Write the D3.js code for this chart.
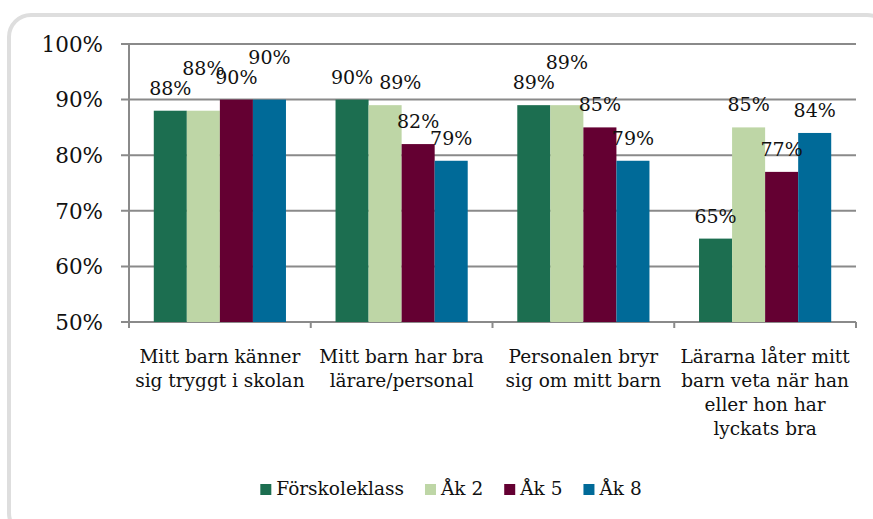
<!DOCTYPE html>
<html>
<head>
<meta charset="utf-8">
<script src="https://cdn.jsdelivr.net/npm/d3@7"></script>
<style>
  body { margin: 0; background: #fff; }
  svg { display: block; font-family: "DejaVu Serif", Georgia, serif; }
</style>
</head>
<body>
<div id="chart"></div>
<script>
// chart data
const categories = [
  "Mitt barn känner sig tryggt i skolan",
  "Mitt barn har bra lärare/personal",
  "Personalen bryr sig om mitt barn",
  "Lärarna låter mitt barn veta när han eller hon har lyckats bra"
];
const series = ["Förskoleklass", "Åk 2", "Åk 5", "Åk 8"];
const forskoleklass = [88, 90, 89, 65];
const ak2 = [88, 89, 89, 85];
const ak5 = [90, 82, 85, 77];
const ak8 = [90, 79, 79, 84];
const yTicks = [50, 60, 70, 80, 90, 100];
const colors = ["#1c6e50", "#bed6a6", "#640032", "#006a98"];

const values = [forskoleklass, ak2, ak5, ak8];

const W = 873, H = 519;
const svg = d3.select("#chart").append("svg")
  .attr("width", W).attr("height", H);

// outer rounded frame
svg.append("rect")
  .attr("x", 9).attr("y", 15)
  .attr("width", 880).attr("height", 520)
  .attr("rx", 22)
  .attr("fill", "#fff")
  .attr("stroke", "#dedede")
  .attr("stroke-width", 4);

const plot = {left: 129, right: 856, top: 44, bottom: 322};

let x = d3.scaleBand().domain(categories).range([plot.left, plot.right]);
let xs = d3.scaleBand().domain(series).range([0, x.bandwidth()])
  .paddingInner(0).paddingOuter(0.75);
let y = d3.scaleLinear().domain([50, 100]).range([plot.bottom, plot.top]);

// gridlines + y tick labels
let grid = svg.append("g");
grid.selectAll("line").data(yTicks).join("line")
  .attr("x1", plot.left - 8).attr("x2", plot.right)
  .attr("y1", d => y(d)).attr("y2", d => y(d))
  .attr("stroke", "#8a8a8a").attr("stroke-width", 2);
grid.selectAll("text").data(yTicks).join("text")
  .attr("x", 103).attr("y", d => y(d))
  .attr("dy", "0.36em")
  .attr("text-anchor", "end")
  .attr("font-size", 21.5)
  .attr("fill", "#111")
  .text(d => d + "%");

// y axis line
svg.append("line")
  .attr("x1", plot.left).attr("x2", plot.left)
  .attr("y1", plot.top).attr("y2", plot.bottom + 6)
  .attr("stroke", "#8a8a8a").attr("stroke-width", 2);

// x axis ticks at category boundaries
let bounds = categories.map(c => x(c)).concat([plot.right]);
svg.append("g").selectAll("line").data(bounds).join("line")
  .attr("x1", d => d).attr("x2", d => d)
  .attr("y1", plot.bottom).attr("y2", plot.bottom + 6)
  .attr("stroke", "#8a8a8a").attr("stroke-width", 2);

// bars
let groups = svg.append("g").selectAll("g").data(categories).join("g")
  .attr("transform", c => `translate(${x(c)},0)`);

groups.selectAll("rect")
  .data((c, ci) => series.map((s, si) => ({s, si, v: values[si][ci]})))
  .join("rect")
  .attr("x", d => xs(d.s))
  .attr("width", xs.bandwidth())
  .attr("y", d => y(d.v))
  .attr("height", d => y(50) - y(d.v))
  .attr("fill", d => colors[d.si]);

// data labels: a label sitting right on the previous one is lifted,
// one that still clashes a lot is pushed to the right
const glyphH = 14;
groups.each(function(c, ci) {
  let g = d3.select(this);
  let prev = null;
  series.forEach((s, si) => {
    let v = values[si][ci];
    let lx = xs(s) + xs.bandwidth() / 2;
    let ly = y(v) - 16;
    let t = g.append("text")
      .attr("text-anchor", "middle")
      .attr("font-size", 19)
      .attr("fill", "#111")
      .text(v + "%");
    let w = t.node().getComputedTextLength();
    if (prev) {
      if (Math.abs(ly - prev.y) < 3) {
        ly -= 20;
      } else {
        let yo = glyphH - Math.abs(ly - prev.y);
        let xo = (prev.x + prev.w / 2) - (lx - w / 2);
        if (yo > 7 && xo > 0) lx += xo + 6;
      }
    }
    t.attr("x", lx).attr("y", ly);
    prev = {x: lx, y: ly, w};
  });
});

// category labels, wrapped to band width
function wrap(text, width) {
  text.each(function() {
    let el = d3.select(this);
    let words = el.text().split(/\s+/);
    el.text(null);
    let line = [];
    let tspan = el.append("tspan").attr("x", el.attr("x")).attr("dy", 0);
    words.forEach(w => {
      line.push(w);
      tspan.text(line.join(" "));
      if (tspan.node().getComputedTextLength() > width && line.length > 1) {
        line.pop();
        tspan.text(line.join(" "));
        line = [w];
        tspan = el.append("tspan").attr("x", el.attr("x")).attr("dy", 24).text(w);
      }
    });
  });
}

svg.append("g").selectAll("text").data(categories).join("text")
  .attr("x", c => x(c) + x.bandwidth() / 2)
  .attr("y", 363)
  .attr("text-anchor", "middle")
  .attr("font-size", 18.5)
  .attr("fill", "#111")
  .text(c => c)
  .call(wrap, 178);

// legend
let legend = svg.append("g");
let lx = 0;
series.forEach((s, i) => {
  let item = legend.append("g").attr("transform", `translate(${lx},0)`);
  item.append("rect")
    .attr("x", 0).attr("y", -11)
    .attr("width", 11).attr("height", 11)
    .attr("fill", colors[i]);
  let t = item.append("text")
    .attr("x", 16).attr("y", 0)
    .attr("font-size", 18.5)
    .attr("fill", "#111")
    .text(s);
  lx += 16 + t.node().getComputedTextLength() + 21;
});
let legendWidth = lx - 21;
legend.attr("transform", `translate(${451 - legendWidth / 2},${495})`);
</script>
</body>
</html>
